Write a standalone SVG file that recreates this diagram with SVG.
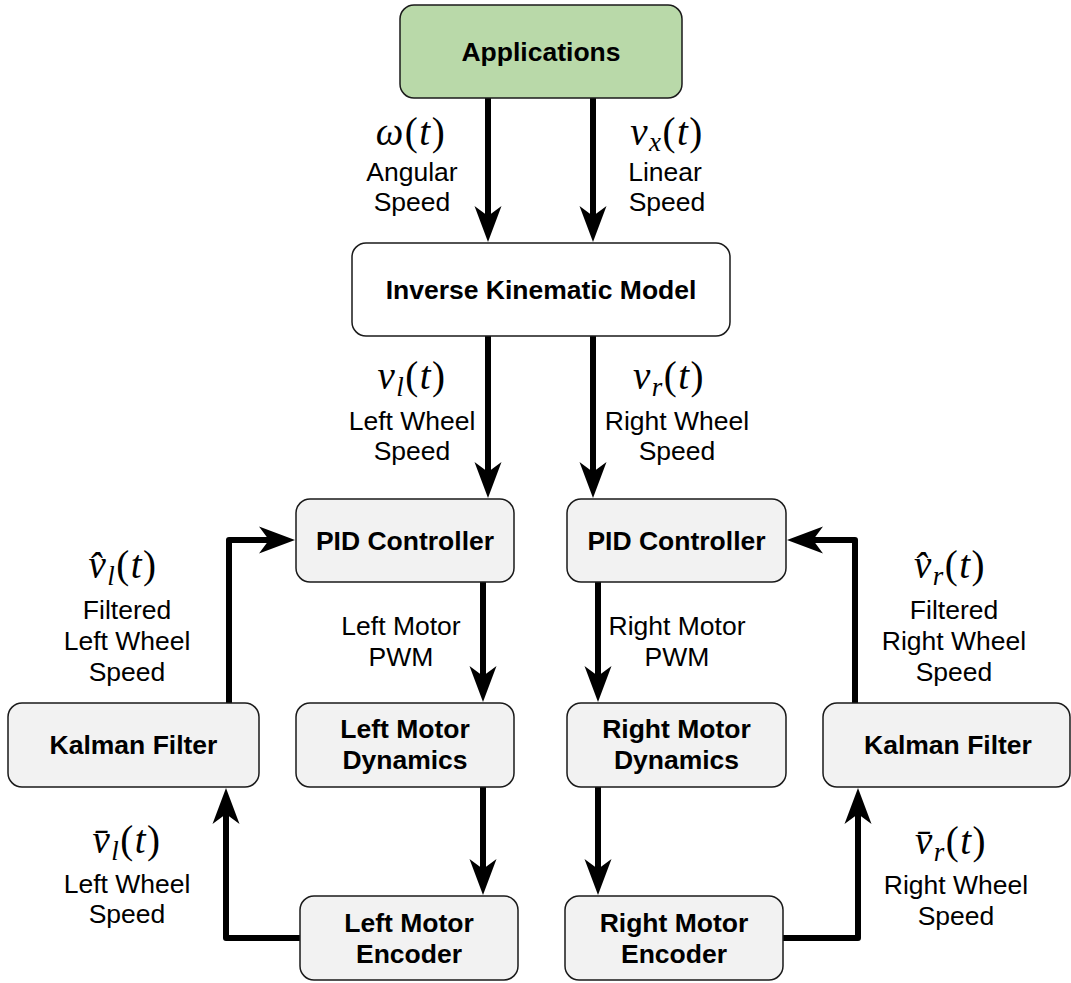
<svg xmlns="http://www.w3.org/2000/svg" width="1071" height="983" viewBox="0 0 1071 983">
<defs>
<style>
.box{fill:#f2f2f2;stroke:#1a1a1a;stroke-width:1.5}
.app{fill:#b9d9a9;stroke:#1a1a1a;stroke-width:1.5}
.ikm{fill:#ffffff;stroke:#1a1a1a;stroke-width:1.5}
.nt{font-family:"Liberation Sans",Arial,sans-serif;font-size:26.5px;font-weight:bold;text-anchor:middle;fill:#000}
.lt{font-family:"Liberation Sans",Arial,sans-serif;font-size:26.5px;text-anchor:middle;fill:#000}
.m{font-family:"Liberation Serif","Times New Roman",serif;font-size:39px;letter-spacing:1.5px;text-anchor:middle;fill:#000}
.i{font-style:italic}
.s{font-size:27px;font-style:italic}
.c{fill:none;stroke:#000;stroke-width:6;stroke-linejoin:round}
</style>
<marker id="ah" markerUnits="userSpaceOnUse" viewBox="0 0 36 28" markerWidth="36" markerHeight="28" refX="12" refY="14" orient="auto"><path d="M36,14 L0,0.5 L10,14 L0,27.5 Z" fill="#000"/></marker>
</defs>

<g id="connectors">
<path class="c" d="M488,98 V218" marker-end="url(#ah)"/>
<path class="c" d="M593,98 V218" marker-end="url(#ah)"/>
<path class="c" d="M488,336 V474" marker-end="url(#ah)"/>
<path class="c" d="M593,336 V474" marker-end="url(#ah)"/>
<path class="c" d="M483,582 V678" marker-end="url(#ah)"/>
<path class="c" d="M598,582 V678" marker-end="url(#ah)"/>
<path class="c" d="M483,787 V871" marker-end="url(#ah)"/>
<path class="c" d="M598,787 V871" marker-end="url(#ah)"/>
<path class="c" d="M300,938 H226 V812" marker-end="url(#ah)"/>
<path class="c" d="M229,703 V540 H271" marker-end="url(#ah)"/>
<path class="c" d="M783,938 H858 V812" marker-end="url(#ah)"/>
<path class="c" d="M855,703 V540 H811" marker-end="url(#ah)"/>
</g>

<g id="labels">
<text class="m" x="411" y="145"><tspan class="i">ω</tspan>(<tspan class="i">t</tspan>)</text>
<text class="lt" x="412" y="181">Angular</text>
<text class="lt" x="412" y="211">Speed</text>

<text class="m" x="667" y="145"><tspan class="i">v</tspan><tspan class="s" dy="6">x</tspan><tspan dy="-6">(</tspan><tspan class="i">t</tspan>)</text>
<text class="lt" x="665" y="181">Linear</text>
<text class="lt" x="667" y="211">Speed</text>

<text class="m" x="412" y="389"><tspan class="i">v</tspan><tspan class="s" dy="7">l</tspan><tspan dy="-7">(</tspan><tspan class="i">t</tspan>)</text>
<text class="lt" x="412" y="430">Left Wheel</text>
<text class="lt" x="412" y="460">Speed</text>

<text class="m" x="669" y="389"><tspan class="i">v</tspan><tspan class="s" dy="7">r</tspan><tspan dy="-7">(</tspan><tspan class="i">t</tspan>)</text>
<text class="lt" x="677" y="430">Right Wheel</text>
<text class="lt" x="677" y="460">Speed</text>

<text class="lt" x="401" y="635">Left Motor</text>
<text class="lt" x="401" y="666">PWM</text>
<text class="lt" x="677" y="635">Right Motor</text>
<text class="lt" x="677" y="666">PWM</text>

<text class="m" x="123" y="578"><tspan class="i">v&#x302;</tspan><tspan class="s" dy="7">l</tspan><tspan dy="-7">(</tspan><tspan class="i">t</tspan>)</text>
<text class="lt" x="127" y="619">Filtered</text>
<text class="lt" x="127" y="650">Left Wheel</text>
<text class="lt" x="127" y="681">Speed</text>

<text class="m" x="950" y="578"><tspan class="i">v&#x302;</tspan><tspan class="s" dy="7">r</tspan><tspan dy="-7">(</tspan><tspan class="i">t</tspan>)</text>
<text class="lt" x="954" y="619">Filtered</text>
<text class="lt" x="954" y="650">Right Wheel</text>
<text class="lt" x="954" y="681">Speed</text>

<text class="m" x="127" y="853"><tspan class="i">v&#x304;</tspan><tspan class="s" dy="7">l</tspan><tspan dy="-7">(</tspan><tspan class="i">t</tspan>)</text>
<text class="lt" x="127" y="893">Left Wheel</text>
<text class="lt" x="127" y="923">Speed</text>

<text class="m" x="951" y="854"><tspan class="i">v&#x304;</tspan><tspan class="s" dy="7">r</tspan><tspan dy="-7">(</tspan><tspan class="i">t</tspan>)</text>
<text class="lt" x="956" y="894">Right Wheel</text>
<text class="lt" x="956" y="925">Speed</text>
</g>

<g id="applications"><rect class="app" x="400" y="5" width="282" height="93" rx="14"/><text class="nt" x="541" y="61">Applications</text></g>
<g id="ikm"><rect class="ikm" x="352" y="243" width="378" height="93" rx="14"/><text class="nt" x="541" y="299">Inverse Kinematic Model</text></g>
<g id="pid-left"><rect class="box" x="296" y="499" width="218" height="83" rx="14"/><text class="nt" x="405" y="550">PID Controller</text></g>
<g id="pid-right"><rect class="box" x="567" y="499" width="219" height="83" rx="14"/><text class="nt" x="676.5" y="550">PID Controller</text></g>
<g id="kalman-left"><rect class="box" x="8" y="703" width="251" height="84" rx="14"/><text class="nt" x="133.5" y="754">Kalman Filter</text></g>
<g id="dyn-left"><rect class="box" x="296" y="703" width="218" height="84" rx="14"/><text class="nt" x="405" y="738">Left Motor</text><text class="nt" x="405" y="769">Dynamics</text></g>
<g id="dyn-right"><rect class="box" x="567" y="703" width="219" height="84" rx="14"/><text class="nt" x="676.5" y="738">Right Motor</text><text class="nt" x="676.5" y="769">Dynamics</text></g>
<g id="kalman-right"><rect class="box" x="823" y="703" width="247" height="84" rx="14"/><text class="nt" x="948" y="754">Kalman Filter</text></g>
<g id="enc-left"><rect class="box" x="300" y="896" width="218" height="84" rx="14"/><text class="nt" x="409" y="932">Left Motor</text><text class="nt" x="409" y="963">Encoder</text></g>
<g id="enc-right"><rect class="box" x="565" y="896" width="218" height="84" rx="14"/><text class="nt" x="674" y="932">Right Motor</text><text class="nt" x="674" y="963">Encoder</text></g>
</svg>
